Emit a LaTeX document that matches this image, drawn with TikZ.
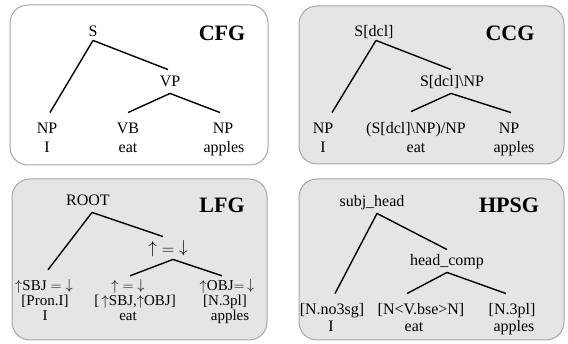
\documentclass[tikz,border=0pt]{standalone}
\usepackage{fontspec}
\setmainfont{Liberation Serif}
\newcommand{\UA}{\raisebox{0.8pt}{$\uparrow$}}
\newcommand{\DA}{\raisebox{1.6pt}{$\downarrow$}}
\begin{document}
\begin{tikzpicture}[x=1pt,y=-1pt,
  panel/.style={draw=black!35,line width=1pt,rounded corners=18pt},
  lbl/.style={inner sep=0pt,text height=10.5pt,text depth=0pt,font=\fontsize{16}{19}\selectfont},
  lfl/.style={inner sep=0pt,text height=10pt,text depth=0pt,font=\fontsize{15}{18}\selectfont},
  title/.style={inner sep=0pt,font=\fontsize{22}{25}\selectfont\bfseries},
  br/.style={line width=1.4pt}]
\useasboundingbox (0,0) rectangle (568,344);
% panels
\draw[panel,fill=white] (10,5) rectangle (268,165);
\draw[panel,fill=black!10] (299,6) rectangle (564,164);
\draw[panel,fill=black!10] (12,179) rectangle (267,340);
\draw[panel,fill=black!10] (299,179) rectangle (564,340);
% ---- CFG
\node[title] (tcfg) at (222,33) {CFG};
\node[lbl] (s) at (93,31) {S};
\node[lbl] (vp) at (170,81) {VP};
\node[lbl] (np1) at (47,128) {NP};
\node[lbl] (w1) at (47,147) {I};
\node[lbl] (vb) at (128,128) {VB};
\node[lbl] (w2) at (128,147) {eat};
\node[lbl] (np2) at (223,128) {NP};
\node[lbl] (w3) at (224,147) {apples};
\draw[br] ([yshift=-4pt]s.south) -- ([xshift=3pt,yshift=10pt]np1.north);
\draw[br] ([yshift=-4pt]s.south) -- ([xshift=-2pt,yshift=6pt]vp.north);
\draw[br] ([yshift=-7pt]vp.south) -- ([yshift=10pt]vb.north);
\draw[br] ([yshift=-7pt]vp.south) -- ([xshift=-3pt,yshift=10pt]np2.north);
% ---- CCG
\node[title] (tccg) at (510,33) {CCG};
\node[lbl] (c0) at (374,31) {S[dcl]};
\node[lbl] (c1) at (452,81) {S[dcl]\textbackslash NP};
\node[lbl] (cnp1) at (323,128) {NP};
\node[lbl] (cw1) at (323,147) {I};
\node[lbl] (cv) at (416,128) {(S[dcl]\textbackslash NP)/NP};
\node[lbl] (cw2) at (416,147) {eat};
\node[lbl] (cnp2) at (509,128) {NP};
\node[lbl] (cw3) at (514,147) {apples};
\draw[br] ([xshift=2pt,yshift=-4pt]c0.south) -- ([xshift=9pt,yshift=10pt]cnp1.north);
\draw[br] ([xshift=2pt,yshift=-4pt]c0.south) -- ([xshift=-1pt,yshift=6pt]c1.north);
\draw[br] ([xshift=-1pt,yshift=-7pt]c1.south) -- ([xshift=-5pt,yshift=11pt]cv.north);
\draw[br] ([xshift=-1pt,yshift=-7pt]c1.south) -- ([xshift=2pt,yshift=10pt]cnp2.north);
% ---- LFG
\node[title] (tlfg) at (222,205) {LFG};
\node[lbl] (l0) at (88,200) {ROOT};
\node[lbl] (l1) at (168,249) {\UA${}={}$\DA};
\node[lfl] (la1) at (44,286) {\UA SBJ${}={}$\DA};
\node[lfl] (lb1) at (45,301) {[Pron.I]};
\node[lfl] (lw1) at (45,316) {I};
\node[lfl] (la2) at (128,286) {\UA${}={}$\DA};
\node[lfl] (lb2) at (135,301) {[\,\UA SBJ,\UA OBJ]};
\node[lfl] (lw2) at (128,316) {eat};
\node[lfl] (la3) at (227,286) {\UA OBJ$=$\,\DA};
\node[lfl] (lb3) at (225,301) {[N.3pl]};
\node[lfl] (lw3) at (230,316) {apples};
\draw[br] ([xshift=4pt,yshift=-7pt]l0.south) -- ([xshift=4pt,yshift=11pt]la1.north);
\draw[br] ([xshift=4pt,yshift=-7pt]l0.south) -- ([xshift=-5pt,yshift=7pt]l1.north);
\draw[br] ([xshift=5pt,yshift=-5pt]l1.south) -- ([xshift=2pt,yshift=5pt]la2.north);
\draw[br] ([xshift=5pt,yshift=-5pt]l1.south) -- ([xshift=-5pt,yshift=5pt]la3.north);
% ---- HPSG
\node[title] (thpsg) at (509,205) {HPSG};
\node[lbl] (h0) at (372,201) {subj\_head};
\node[lbl] (h1) at (447,260) {head\_comp};
\node[lbl] (hb1) at (332,309) {[N.no3sg]};
\node[lbl] (hw1) at (331,326) {I};
\node[lbl] (hb2) at (421,309) {[N<V.bse>N]};
\node[lbl] (hw2) at (414,326) {eat};
\node[lbl] (hb3) at (512,309) {[N.3pl]};
\node[lbl] (hw3) at (514,326) {apples};
\draw[br] ([xshift=5pt,yshift=-7pt]h0.south) -- ([xshift=3pt,yshift=10pt]hb1.north);
\draw[br] ([xshift=5pt,yshift=-7pt]h0.south) -- ([yshift=5pt]h1.north);
\draw[br] ([yshift=-7pt]h1.south) -- ([xshift=-14pt,yshift=10pt]hb2.north);
\draw[br] ([yshift=-7pt]h1.south) -- ([xshift=-6pt,yshift=10pt]hb3.north);
\end{tikzpicture}
\end{document}
